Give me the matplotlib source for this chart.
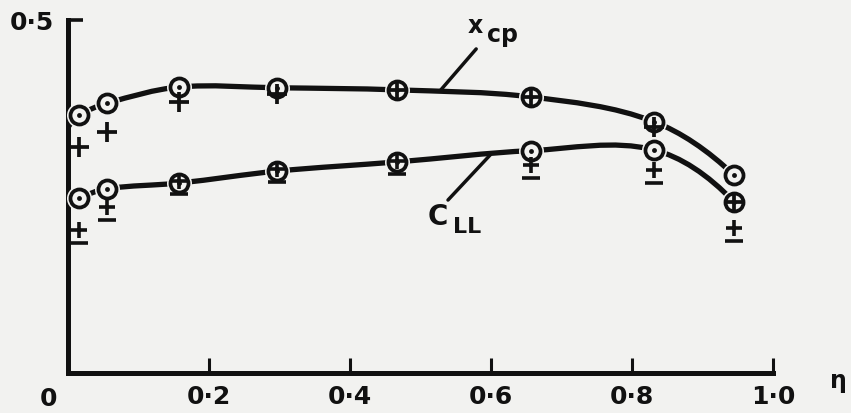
import numpy as np
import matplotlib
matplotlib.use("Agg")
import matplotlib.pyplot as plt
from matplotlib.path import Path
from matplotlib.patches import PathPatch

# spanwise stations
eta = [0.016, 0.055, 0.157, 0.297, 0.467, 0.657, 0.831, 0.945]

# x_cp : circles (on the faired curve) and crosses
xcp_circle = [0.365, 0.382, 0.405, 0.404, 0.401, 0.391, 0.356, 0.280]
xcp_cross = [0.320, 0.341, 0.384, 0.395, 0.401, 0.391, 0.348, 0.242]

# C_LL : circles (on the faired curve) and barred crosses
cll_circle = [0.248, 0.261, 0.269, 0.286, 0.299, 0.315, 0.316, 0.242]
cll_cross = [0.203, 0.235, 0.272, 0.289, 0.300, 0.295, 0.288, 0.205]

# where the faired curves meet the axis eta = 0
xcp_root = 0.348
cll_root = 0.238

xticks = [0.2, 0.4, 0.6, 0.8, 1.0]
xtick_labels = ['0·2', '0·4', '0·6', '0·8', '1·0']
yticks = [0.5]
ytick_labels = ['0·5']

paper = '#f2f2f0'
ink = '#111111'

plt.rcParams['font.family'] = ['DejaVu Sans']
plt.rcParams['font.weight'] = 'bold'


def faired(ax, xs, ys, **kw):
    """smooth curve through the points (cubic hermite -> bezier)"""
    x = np.asarray(xs, float)
    y = np.asarray(ys, float)
    sec = np.diff(y) / np.diff(x)
    m = np.empty_like(y)
    m[1:-1] = (y[2:] - y[:-2]) / (x[2:] - x[:-2])
    m[0] = 2 * sec[0] - m[1]
    m[-1] = 2 * sec[-1] - m[-2]
    verts = [(x[0], y[0])]
    codes = [Path.MOVETO]
    for i in range(len(x) - 1):
        h = (x[i + 1] - x[i]) / 3
        verts += [(x[i] + h, y[i] + m[i] * h),
                  (x[i + 1] - h, y[i + 1] - m[i + 1] * h),
                  (x[i + 1], y[i + 1])]
        codes += [Path.CURVE4] * 3
    ax.add_patch(PathPatch(Path(verts, codes), fill=False, **kw))


# plus with a bar under it
bar_plus = Path([(-1, 0), (1, 0), (0, -1), (0, 1), (-1.1, -1.6), (1.1, -1.6)],
                [Path.MOVETO, Path.LINETO] * 3)

fig = plt.figure(figsize=(8.51, 4.13), dpi=100, facecolor=paper)
ax = fig.add_axes([68 / 851, 40 / 413, 705 / 851, 353 / 413])
ax.set_facecolor(paper)
ax.set_xlim(0, 1)
ax.set_ylim(0, 0.5)

for s in ['top', 'right']:
    ax.spines[s].set_visible(False)
for s in ['left', 'bottom']:
    ax.spines[s].set_linewidth(3.6)
    ax.spines[s].set_color(ink)
    ax.spines[s].set_capstyle('projecting')

ax.set_xticks(xticks)
ax.set_xticklabels(xtick_labels)
ax.set_yticks(yticks)
ax.set_yticklabels(ytick_labels)
ax.tick_params(axis='x', direction='in', length=11, width=2.2, color=ink,
               labelsize=18, pad=9, labelcolor=ink)
ax.tick_params(axis='y', direction='in', length=11, width=2.6, color=ink,
               labelsize=18, pad=10, labelcolor=ink)

# faired curves
line_kw = dict(color=ink, lw=3.8, capstyle='round', zorder=2)
faired(ax, [0] + eta, [xcp_root] + xcp_circle, **line_kw)
faired(ax, [0] + eta, [cll_root] + cll_circle, **line_kw)

# circles with a dot
for vals in (xcp_circle, cll_circle):
    ax.plot(eta, vals, 'o', ms=18, mfc=paper, mec=paper, mew=0, zorder=3, clip_on=False)
    ax.plot(eta, vals, 'o', ms=13, mfc=paper, mec=ink, mew=2.7, zorder=4, clip_on=False)
    ax.plot(eta, vals, 'o', ms=3.5, color=ink, mew=0, zorder=5, clip_on=False)

# crosses
ax.plot(eta, xcp_cross, '+', ms=15, mew=2.7, color=ink, zorder=6, clip_on=False)
ax.plot(eta, cll_cross, ls='none', marker=bar_plus, ms=18.4, mew=2.6,
        mfc='none', mec=ink, zorder=6, clip_on=False)

# labels on the curves
ax.annotate('', xy=(0.528, 0.400), xytext=(0.579, 0.459),
            arrowprops=dict(arrowstyle='-', lw=2.5, color=ink, shrinkA=0, shrinkB=0))
ax.text(0.577, 0.482, 'x', fontsize=17, ha='center', va='baseline', color=ink)
ax.text(0.616, 0.469, 'cp', fontsize=17, ha='center', va='baseline', color=ink)

ax.annotate('', xy=(0.599, 0.309), xytext=(0.539, 0.245),
            arrowprops=dict(arrowstyle='-', lw=2.5, color=ink, shrinkA=0, shrinkB=0))
ax.text(0.525, 0.210, 'C', fontsize=20, ha='center', va='baseline', color=ink)
ax.text(0.566, 0.198, 'LL', fontsize=16, ha='center', va='baseline', color=ink)

# origin label and axis name
ax.annotate('0', xy=(0, 0), xytext=(-14, -10), textcoords='offset points',
            ha='center', va='top', fontsize=18, color=ink)
ax.annotate('η', xy=(1.0, 0), xytext=(47, -6), textcoords='offset points',
            ha='center', va='center', fontsize=17, color=ink)

fig.savefig('out.png', dpi=100, facecolor=paper)
